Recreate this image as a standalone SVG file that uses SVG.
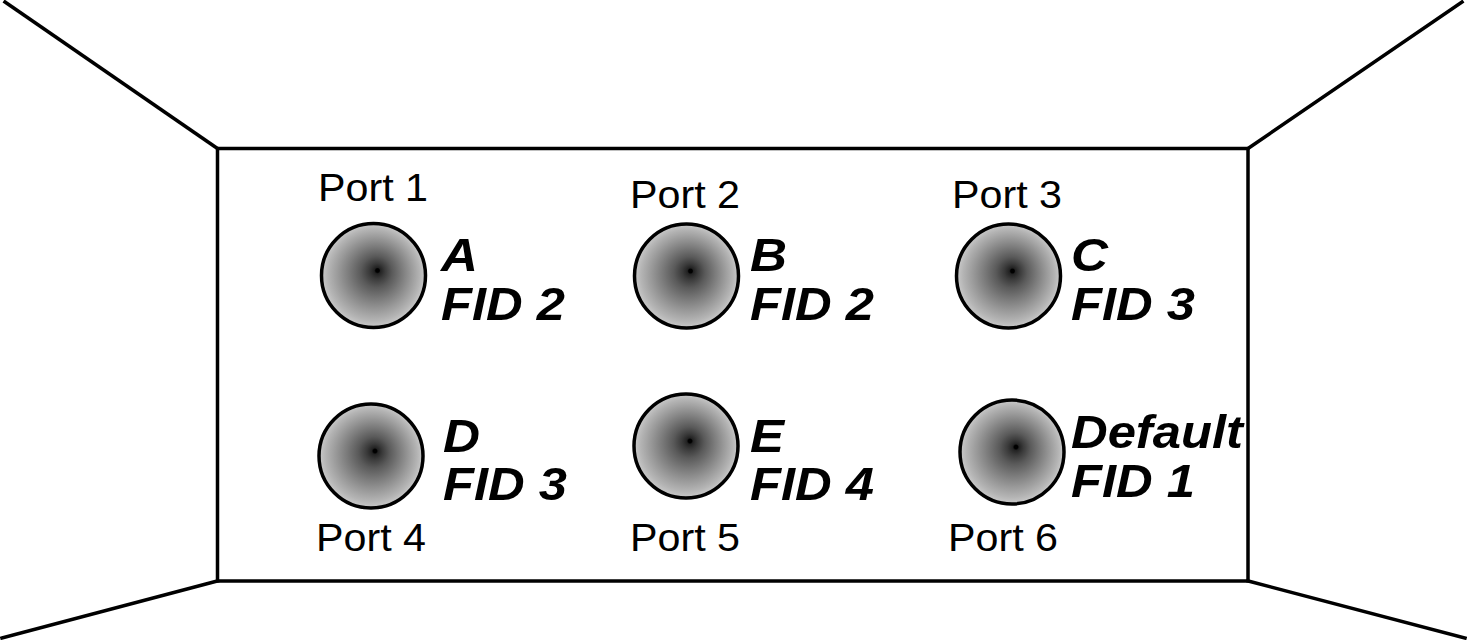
<svg xmlns="http://www.w3.org/2000/svg" width="1467" height="640" viewBox="0 0 1467 640">
<style>
.wall{stroke:#000;stroke-width:3.5;fill:none;stroke-linecap:square}
.port{font-family:"Liberation Sans",Arial,sans-serif;font-size:38px;fill:#000}
.lbl{font-family:"Liberation Sans",Arial,sans-serif;font-size:46px;font-weight:bold;font-style:italic;fill:#000}
.knob{fill:url(#g);stroke:#000;stroke-width:3.5}
</style>
<defs>
<radialGradient id="g" cx="0.5" cy="0.5" r="0.5" fx="0.54" fy="0.45">
<stop offset="0" stop-color="#000"/>
<stop offset="0.035" stop-color="#000"/>
<stop offset="0.06" stop-color="#222"/>
<stop offset="0.15" stop-color="#3a3a3a"/>
<stop offset="0.3" stop-color="#5a5a5a"/>
<stop offset="0.5" stop-color="#7a7a7a"/>
<stop offset="0.7" stop-color="#999"/>
<stop offset="0.88" stop-color="#b4b4b4"/>
<stop offset="1" stop-color="#cacaca"/>
</radialGradient>
</defs>
<rect width="1467" height="640" fill="#fff"/>
<g id="room">
<rect class="wall" x="217.5" y="148.5" width="1030.5" height="432.5"/>
<line class="wall" x1="5" y1="2" x2="217.5" y2="148.5"/>
<line class="wall" x1="1462" y1="2" x2="1248" y2="148.5"/>
<line class="wall" x1="2" y1="638" x2="217.5" y2="581"/>
<line class="wall" x1="1465" y1="638" x2="1248" y2="581"/>
</g>
<g id="port1">
<circle class="knob" cx="373.5" cy="275.5" r="52"/>
<text class="port" x="318" y="201" textLength="110" lengthAdjust="spacingAndGlyphs">Port 1</text>
<text class="lbl" x="441" y="271" textLength="37" lengthAdjust="spacingAndGlyphs">A</text>
<text class="lbl" x="441" y="320" textLength="124" lengthAdjust="spacingAndGlyphs">FID 2</text>
</g>
<g id="port2">
<circle class="knob" cx="686.5" cy="276" r="52"/>
<text class="port" x="630" y="208" textLength="110" lengthAdjust="spacingAndGlyphs">Port 2</text>
<text class="lbl" x="750" y="271" textLength="37" lengthAdjust="spacingAndGlyphs">B</text>
<text class="lbl" x="750" y="320" textLength="124" lengthAdjust="spacingAndGlyphs">FID 2</text>
</g>
<g id="port3">
<circle class="knob" cx="1008.5" cy="276" r="52"/>
<text class="port" x="952" y="208" textLength="110" lengthAdjust="spacingAndGlyphs">Port 3</text>
<text class="lbl" x="1071" y="271" textLength="37" lengthAdjust="spacingAndGlyphs">C</text>
<text class="lbl" x="1071" y="320" textLength="124" lengthAdjust="spacingAndGlyphs">FID 3</text>
</g>
<g id="port4">
<circle class="knob" cx="371" cy="456" r="52"/>
<text class="port" x="316" y="551" textLength="110" lengthAdjust="spacingAndGlyphs">Port 4</text>
<text class="lbl" x="443" y="452" textLength="37" lengthAdjust="spacingAndGlyphs">D</text>
<text class="lbl" x="443" y="500" textLength="124" lengthAdjust="spacingAndGlyphs">FID 3</text>
</g>
<g id="port5">
<circle class="knob" cx="686" cy="446" r="52"/>
<text class="port" x="630" y="551" textLength="110" lengthAdjust="spacingAndGlyphs">Port 5</text>
<text class="lbl" x="750" y="452" textLength="34" lengthAdjust="spacingAndGlyphs">E</text>
<text class="lbl" x="750" y="500" textLength="124" lengthAdjust="spacingAndGlyphs">FID 4</text>
</g>
<g id="port6">
<circle class="knob" cx="1012" cy="452" r="52"/>
<text class="port" x="948" y="551" textLength="110" lengthAdjust="spacingAndGlyphs">Port 6</text>
<text class="lbl" x="1071" y="448" textLength="172" lengthAdjust="spacingAndGlyphs">Default</text>
<text class="lbl" x="1071" y="497" textLength="124" lengthAdjust="spacingAndGlyphs">FID 1</text>
</g>
</svg>
